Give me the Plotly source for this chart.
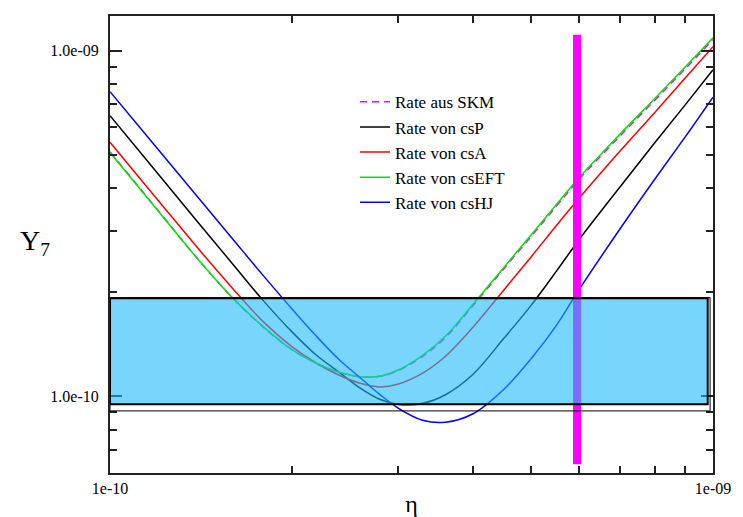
import plotly.graph_objects as go

# eta in units of 1e-10
eta = [1.0, 1.2, 1.4, 1.6, 1.8, 2.0, 2.2, 2.4, 2.6, 2.8, 3.0, 3.3, 3.6, 4.0, 4.5, 5.0, 5.5, 6.0, 7.0, 8.0, 9.0, 10.0]
# Y7 in units of 1e-10
rate_skm = [5.10, 3.46, 2.49, 1.92, 1.58, 1.367, 1.246, 1.173, 1.139, 1.142, 1.185, 1.305, 1.48, 1.83, 2.34, 2.91, 3.55, 4.25, 5.65, 7.18, 8.88, 10.78]
rate_csp = [6.487, 4.411, 3.183, 2.407, 1.882, 1.541, 1.314, 1.173, 1.055, 0.980, 0.948, 0.954, 1.010, 1.158, 1.471, 1.839, 2.302, 2.843, 4.018, 5.404, 6.982, 8.813]
rate_csa = [5.433, 3.700, 2.678, 2.045, 1.636, 1.395, 1.246, 1.150, 1.090, 1.064, 1.083, 1.166, 1.305, 1.585, 2.031, 2.539, 3.121, 3.747, 5.108, 6.619, 8.356, 10.27]
rate_cseft = [5.074, 3.448, 2.489, 1.920, 1.583, 1.367, 1.246, 1.173, 1.139, 1.142, 1.189, 1.314, 1.491, 1.845, 2.360, 2.939, 3.588, 4.296, 5.717, 7.266, 8.990, 10.90]
rate_cshj = [7.611, 5.193, 3.759, 2.843, 2.223, 1.796, 1.491, 1.275, 1.131, 1.013, 0.926, 0.852, 0.841, 0.890, 1.048, 1.288, 1.604, 2.038, 3.038, 4.239, 5.641, 7.338]

series_names = ["Rate aus SKM", "Rate von csP", "Rate von csA", "Rate von csEFT", "Rate von csHJ"]

# observational band and eta marker
band_y = [0.948e-10, 1.92e-10]
band_x = [1.0e-10, 9.8e-10]
outer_y = [0.907e-10, 1.93e-10]
outer_x = [1.0e-10, 9.89e-10]
eta_obs = 5.95e-10
eta_obs_y = [6.36e-11, 1.112e-9]

x_ticks = [1e-10, 1e-9]
x_ticktext = ["1e-10", "1e-09"]
y_ticks = [1e-10, 1e-9]
y_ticktext = ["1.0e-10", "1.0e-09"]
x_minor = [k * 1e-10 for k in range(2, 10)]
y_minor = [k * 1e-11 for k in range(6, 10)] + [k * 1e-10 for k in range(2, 10)]

xs = [v * 1e-10 for v in eta]
SERIF = "Liberation Serif, Times New Roman, serif"

fig = go.Figure()
styles = [
    dict(color="#ff00ff", width=1.5, dash="7px,5px"),
    dict(color="#000000", width=1.5),
    dict(color="#ff0000", width=1.5),
    dict(color="#00e600", width=1.5),
    dict(color="#0000ff", width=1.5),
]
datas = [rate_skm, rate_csp, rate_csa, rate_cseft, rate_cshj]
for name, d, st in zip(series_names, datas, styles):
    fig.add_trace(go.Scatter(
        x=xs, y=[v * 1e-10 for v in d], mode="lines", name=name,
        line=dict(shape="spline", smoothing=1.0, **st),
    ))

fig.add_shape(type="line", xref="x", yref="y", x0=eta_obs, x1=eta_obs,
              y0=eta_obs_y[0], y1=eta_obs_y[1],
              line=dict(color="#ff00ff", width=8), layer="above")
fig.add_shape(type="rect", xref="x", yref="y", x0=band_x[0], x1=band_x[1],
              y0=band_y[0], y1=band_y[1],
              fillcolor="rgba(30,185,250,0.6)", line=dict(color="black", width=2), layer="above")
fig.add_shape(type="rect", xref="x", yref="y", x0=outer_x[0], x1=outer_x[1],
              y0=outer_y[0], y1=outer_y[1],
              fillcolor="rgba(0,0,0,0)", line=dict(color="black", width=1), layer="above")

axis_common = dict(
    type="log", showgrid=False, zeroline=False, showline=True, linecolor="#222222", linewidth=2,
    mirror="allticks", ticks="inside", ticklen=12, tickwidth=2, tickcolor="#222222",
    tickfont=dict(family=SERIF, size=16, color="black"), automargin=False,
)

fig.update_xaxes(range=[-10, -9], tickmode="array", tickvals=x_ticks, ticktext=x_ticktext,
                 minor=dict(tickmode="array", tickvals=x_minor, ticks="inside", ticklen=7,
                            tickwidth=1.5, tickcolor="#222222"),
                 title=dict(text="η", font=dict(family=SERIF, size=24, color="black"), standoff=2),
                 **axis_common)
fig.update_yaxes(range=[-10.2221, -8.8995], tickmode="array", tickvals=y_ticks, ticktext=y_ticktext,
                 minor=dict(tickmode="array", tickvals=y_minor, ticks="inside", ticklen=7,
                            tickwidth=1.5, tickcolor="#222222"),
                 ticklabelstandoff=6,
                 **axis_common)

fig.add_annotation(text="Y<sub>7</sub>", xref="paper", yref="paper", x=-0.1244, y=0.505,
                   xanchor="center", yanchor="middle", showarrow=False,
                   font=dict(family=SERIF, size=28, color="black"))

fig.update_layout(
    width=743, height=517,
    margin=dict(l=110, r=30, t=16, b=44),
    paper_bgcolor="white", plot_bgcolor="white",
    showlegend=True,
    legend=dict(x=0.4063, y=0.8506, xanchor="left", yanchor="top", bgcolor="rgba(0,0,0,0)",
                font=dict(family=SERIF, size=17, color="black"),
                tracegroupgap=0),
)

fig.write_html("out.html")
